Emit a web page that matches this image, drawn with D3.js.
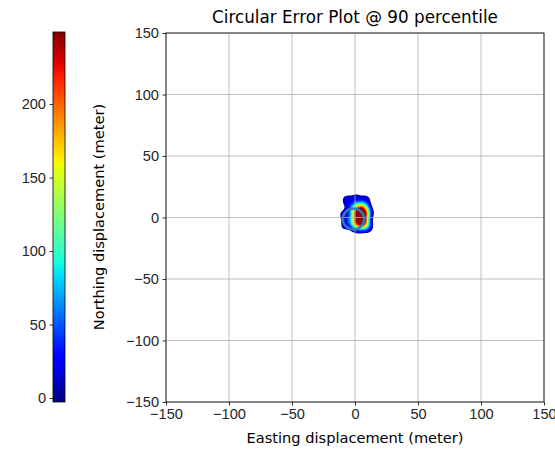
<!DOCTYPE html>
<html><head><meta charset="utf-8">
<script src="https://cdn.jsdelivr.net/npm/d3@7"></script>
<style>body{margin:0;background:#fff}svg{display:block;font-family:"DejaVu Sans",sans-serif}</style>
</head><body><svg id="c" width="555" height="451"></svg>
<script>
// ---- data ----
const title = "Circular Error Plot @ 90 percentile";
const xLabel = "Easting displacement (meter)";
const yLabel = "Northing displacement (meter)";
const axisTicks = [-150, -100, -50, 0, 50, 100, 150];
const colorbarTicks = [0, 50, 100, 150, 200];
const colorbarRange = [-2.7, 249];
// sample positions (east, north) with weights, read from the density blob
const sampleEast  = [0, 3, 6, 8, 0, 3, 6, 8, 0, 3, 6, 8, 0, 3, 6, 8, 0, 3, 6, 8, 1, 4, 7,
                     -6, 8, 1, -8, -7, 10, 11, 3, -4, -5];
const sampleNorth = [-6, -6, -6, -6, -3, -3, -3, -3, 0, 0, 0, 0, 3, 3, 3, 3, 6, 6, 6, 6, 9, 9, 9,
                     14, 14, 15, 2, -6, -8, 4, -9, 8, -2];
const sampleWeight= [1, 1, 1, 1, 1, 1, 1, 1, 1, 1, 1, 1, 1, 1, 1, 1, 1, 1, 1, 1, 0.9, 0.9, 0.9,
                     0.35, 0.35, 0.35, 0.35, 0.35, 0.3, 0.3, 0.3, 0.35, 0.4];
const cepEast = -1.2, cepNorth = -1.2, cepRadius = 8.5;

// ---- jet colormap ----
const jr = d3.scaleLinear().domain([0,0.35,0.66,0.89,1]).range([0,0,1,1,0.5]).clamp(true);
const jg = d3.scaleLinear().domain([0,0.125,0.375,0.64,0.91,1]).range([0,0,1,1,0,0]).clamp(true);
const jb = d3.scaleLinear().domain([0,0.11,0.34,0.65,1]).range([0.5,1,1,0,0]).clamp(true);
const jet = t => `rgb(${Math.round(jr(t)*255)},${Math.round(jg(t)*255)},${Math.round(jb(t)*255)})`;

const svg = d3.select("#c");
const x = d3.scaleLinear().domain([-150,150]).range([166,544]);
const y = d3.scaleLinear().domain([-150,150]).range([402,33]);
const cb = d3.scaleLinear().domain(colorbarRange).range([402,32]);
const cnorm = d3.scaleLinear().domain(colorbarRange).range([0,1]);

// ---- colorbar ----
const defs = svg.append("defs");
const grad = defs.append("linearGradient").attr("id","jetg").attr("x1",0).attr("y1",1).attr("x2",0).attr("y2",0);
d3.range(0,1.0001,0.02).forEach(t=>grad.append("stop").attr("offset",t).attr("stop-color",jet(t)));
svg.append("rect").attr("x",53).attr("y",32).attr("width",12).attr("height",370).attr("fill","url(#jetg)").attr("stroke","#000").attr("stroke-width",0.8);
const cbAxis = svg.append("g").attr("transform","translate(53,0)").call(d3.axisLeft(cb).tickValues(colorbarTicks).tickSize(3.5).tickPadding(3.5));
cbAxis.select(".domain").remove();
cbAxis.selectAll("text").attr("font-size",14.6).attr("fill","#262626");
cbAxis.selectAll("line").attr("stroke-width",0.8);

// ---- density ----
const pts = sampleEast.map((e,i)=>[e,sampleNorth[i],sampleWeight[i]]);
const dens = d3.contourDensity().x(d=>x(d[0])).y(d=>y(d[1])).weight(d=>d[2]).size([555,451]).cellSize(1).bandwidth(3.2);
const first = dens.thresholds(400)(pts);
const dmax = d3.max(first, c=>c.value);
const levels = d3.range(8, 245, 5);
const cont = dens.thresholds(levels.map(v=>v/249*dmax*0.8))(pts);
svg.append("g").selectAll("path").data(cont).join("path")
  .attr("d", d3.geoPath()).attr("fill",(c,i)=>jet(cnorm(levels[i]+2.5))).attr("stroke","none");

// ---- grid ----
const g = svg.append("g");
axisTicks.forEach(v=>{
  g.append("line").attr("x1",x(v)).attr("x2",x(v)).attr("y1",33).attr("y2",402).attr("stroke","#b0b0b0").attr("stroke-width",0.8);
  g.append("line").attr("y1",y(v)).attr("y2",y(v)).attr("x1",166).attr("x2",544).attr("stroke","#b0b0b0").attr("stroke-width",0.8);
});

// ---- CEP circle ----
svg.append("ellipse").attr("cx",x(cepEast)).attr("cy",y(cepNorth)).attr("rx",x(cepRadius)-x(0)).attr("ry",y(0)-y(cepRadius))
  .attr("fill","none").attr("stroke","#2f7bbd").attr("stroke-width",2.5);

// ---- axes ----
svg.append("rect").attr("x",166).attr("y",33).attr("width",378).attr("height",369).attr("fill","none").attr("stroke","#000").attr("stroke-width",0.8);
const fmt = v => v<0 ? "\u2212"+Math.abs(v) : ""+v;
const ax = svg.append("g").attr("transform","translate(0,402)").call(d3.axisBottom(x).tickValues(axisTicks).tickFormat(fmt).tickSize(3.5).tickPadding(3.5));
const ay = svg.append("g").attr("transform","translate(166,0)").call(d3.axisLeft(y).tickValues(axisTicks).tickFormat(fmt).tickSize(3.5).tickPadding(3.5));
[ax,ay].forEach(a=>{a.select(".domain").remove();a.selectAll("text").attr("font-size",14.6).attr("fill","#262626");a.selectAll("line").attr("stroke-width",0.8);});

svg.append("text").attr("x",355).attr("y",23).attr("text-anchor","middle").attr("font-size",16.8).text(title);
svg.append("text").attr("x",355).attr("y",443).attr("text-anchor","middle").attr("font-size",14.6).text(xLabel);
svg.append("text").attr("transform","translate(104,217) rotate(-90)").attr("text-anchor","middle").attr("font-size",14.6).text(yLabel);
</script></body></html>
